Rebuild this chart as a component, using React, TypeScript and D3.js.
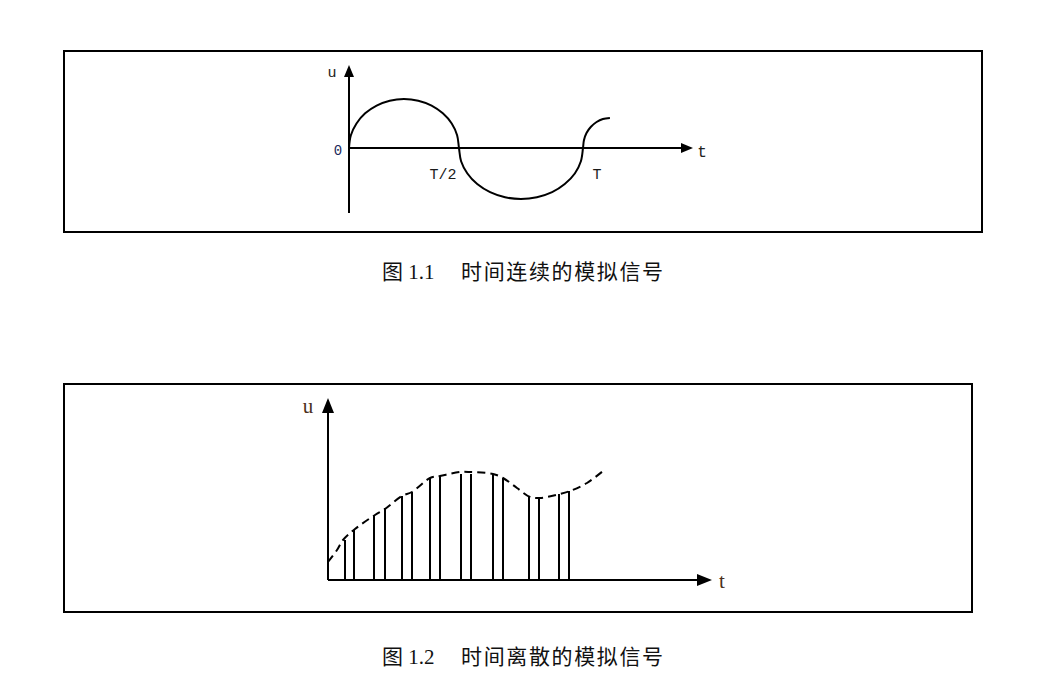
import React from "react";
import * as d3 from "d3";

// Figure 1.1: continuous-time analog signal (t in units of T, u in amplitude units)
const contT = [0, 0.008, 0.032, 0.069, 0.118, 0.174, 0.235, 0.296, 0.353, 0.401, 0.439, 0.462, 0.47, 0.479, 0.506, 0.548, 0.603, 0.667, 0.735, 0.803, 0.868, 0.922, 0.965, 0.991, 1.0, 1.004, 1.015, 1.034, 1.058, 1.085, 1.115];
const contU = [0, 0.254, 0.49, 0.693, 0.848, 0.946, 0.98, 0.946, 0.848, 0.693, 0.49, 0.254, 0, -0.264, -0.51, -0.722, -0.884, -0.986, -1.02, -0.986, -0.884, -0.722, -0.51, -0.264, 0, 0.156, 0.3, 0.424, 0.52, 0.58, 0.6];
const fig1TickLabels = ["T/2", "T"];
const fig1TickValues = [0.5, 1.0];

// Figure 1.2: discrete-time analog signal
const envT = [0, 9, 15, 27, 47, 57, 74, 84, 102, 112, 132, 142, 165, 175, 189, 202, 212, 232, 242, 259, 275];
const envU = [18, 30, 40, 51, 65, 71, 84, 88, 102, 104, 108, 108, 106, 102, 92, 83, 82, 86, 89, 97, 109];
const sampleT = [17, 26, 46, 57, 74, 84, 102, 112, 133, 143, 165, 175, 201, 211, 231, 241];
const sampleU = [40, 50, 65, 72, 84, 88, 102, 104, 106, 106, 106, 102, 83, 82, 86, 89];

const caption1Num = "图 1.1";
const caption1Text = "时间连续的模拟信号";
const caption2Num = "图 1.2";
const caption2Text = "时间离散的模拟信号";

export default function App() {
  // Figure 1 scales
  const x1 = d3.scaleLinear().domain([0, 1]).range([349, 583]);
  const y1 = d3.scaleLinear().domain([0, 1]).range([148, 98]);
  const line1 = d3
    .line<number>()
    .x((_, i) => x1(contT[i]))
    .y((d) => y1(d))
    .curve(d3.curveCatmullRom.alpha(0.5));

  // Figure 2 scales
  const x2 = d3.scaleLinear().domain([0, 384]).range([328, 712]);
  const y2 = d3.scaleLinear().domain([0, 182]).range([580, 398]);
  const line2 = d3
    .line<number>()
    .x((_, i) => x2(envT[i]))
    .y((d) => y2(d))
    .curve(d3.curveCatmullRom.alpha(0.5));

  const mono = "'Liberation Mono', 'DejaVu Sans Mono', monospace";
  const serif = "'Liberation Serif', 'Times New Roman', serif";
  const cjk = "'Liberation Serif', 'Noto Sans CJK SC', serif";

  const y1Top = 65;
  const y1Bottom = 213;
  const x1End = 693;
  const y2Top = 398;
  const x2End = 712;

  return (
    <svg
      width={1045}
      height={687}
      style={{ position: "absolute", left: 0, top: 0, background: "#fff" }}
    >
      {/* Figure 1 frame */}
      <rect x={64} y={51} width={918} height={181} fill="none" stroke="#000" strokeWidth={2} />
      {/* axes */}
      <line x1={x1(0)} y1={y1Bottom} x2={x1(0)} y2={y1Top + 8} stroke="#000" strokeWidth={2} />
      <path d={`M${x1(0)},${y1Top} L${x1(0) - 5},${y1Top + 12} L${x1(0) + 5},${y1Top + 12} Z`} fill="#000" />
      <line x1={x1(0)} y1={y1(0)} x2={x1End - 8} y2={y1(0)} stroke="#000" strokeWidth={2} />
      <path d={`M${x1End},${y1(0)} L${x1End - 12},${y1(0) - 5} L${x1End - 12},${y1(0) + 5} Z`} fill="#000" />
      <path d={line1(contU) || ""} fill="none" stroke="#000" strokeWidth={2} />
      <text x={332} y={77} fontFamily={mono} fontSize={15} textAnchor="middle" fill="#222">u</text>
      <text x={338} y={155} fontFamily={mono} fontSize={14} textAnchor="middle" fill="#1a2a5a">0</text>
      <text x={702} y={157} fontFamily={mono} fontSize={16} textAnchor="middle" fill="#222">t</text>
      {fig1TickLabels.map((lab, i) => (
        <text
          key={lab}
          x={x1(fig1TickValues[i]) + (i === 0 ? -23 : 14)}
          y={179}
          fontFamily={mono}
          fontSize={15}
          textAnchor="middle"
          fill="#1a1a1a"
        >
          {lab}
        </text>
      ))}

      {/* caption 1 */}
      <text x={382} y={279} fontFamily={cjk} fontSize={21} fill="#111">{caption1Num}</text>
      <text x={461} y={279} fontFamily={cjk} fontSize={21} fill="#111" textLength={202} lengthAdjust="spacing">{caption1Text}</text>

      {/* Figure 2 frame */}
      <rect x={64} y={384} width={908} height={228} fill="none" stroke="#000" strokeWidth={2} />
      <line x1={x2(0)} y1={y2(0)} x2={x2(0)} y2={y2Top + 10} stroke="#000" strokeWidth={2} />
      <path d={`M${x2(0)},${y2Top} L${x2(0) - 6},${y2Top + 15} L${x2(0) + 6},${y2Top + 15} Z`} fill="#000" />
      <line x1={x2(0)} y1={y2(0)} x2={x2End - 10} y2={y2(0)} stroke="#000" strokeWidth={2} />
      <path d={`M${x2End},${y2(0)} L${x2End - 15},${y2(0) - 6} L${x2End - 15},${y2(0) + 6} Z`} fill="#000" />
      <path d={line2(envU) || ""} fill="none" stroke="#000" strokeWidth={2} strokeDasharray="8,5" />
      {sampleT.map((t, i) => (
        <line key={i} x1={x2(t)} y1={y2(0)} x2={x2(t)} y2={y2(sampleU[i])} stroke="#000" strokeWidth={2} />
      ))}
      <text x={308} y={413} fontFamily={serif} fontSize={21} textAnchor="middle" fill="#4a3020">u</text>
      <text x={722} y={588} fontFamily={serif} fontSize={21} textAnchor="middle" fill="#4a3020">t</text>

      {/* caption 2 */}
      <text x={382} y={664} fontFamily={cjk} fontSize={21} fill="#111">{caption2Num}</text>
      <text x={461} y={664} fontFamily={cjk} fontSize={21} fill="#111" textLength={202} lengthAdjust="spacing">{caption2Text}</text>
    </svg>
  );
}
